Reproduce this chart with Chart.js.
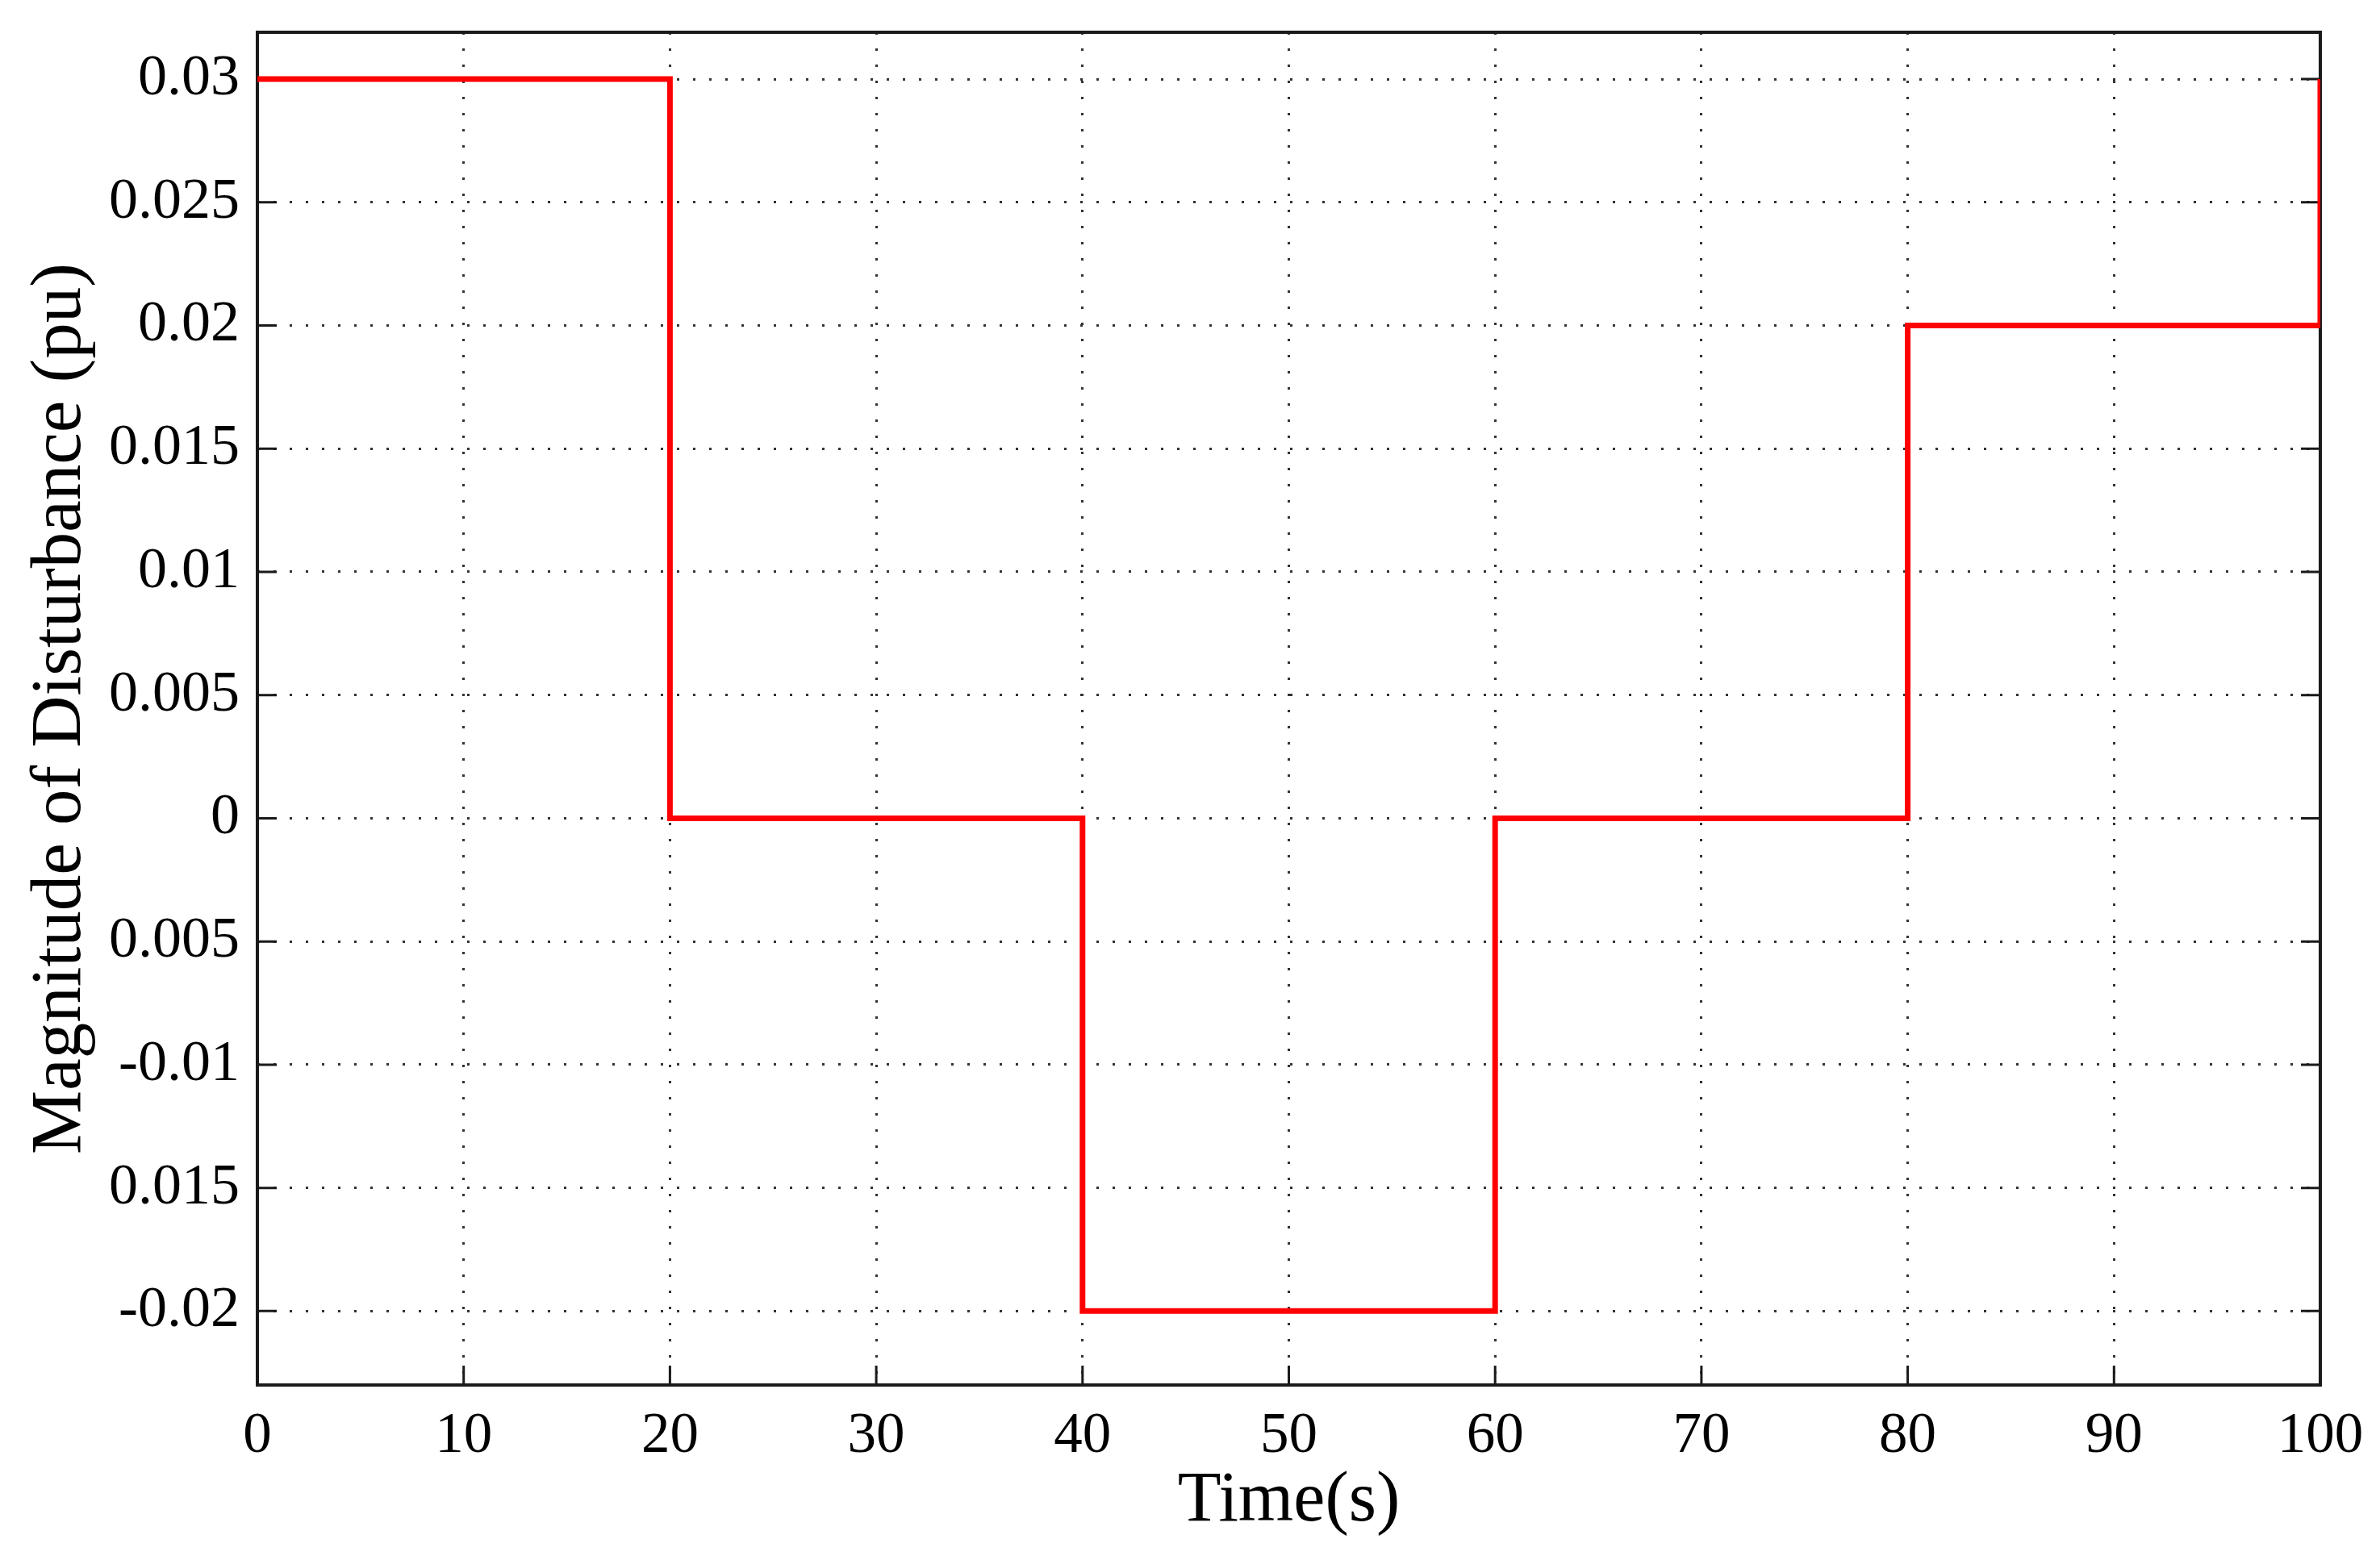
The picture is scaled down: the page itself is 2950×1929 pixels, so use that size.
<!DOCTYPE html>
<html>
<head>
<meta charset="utf-8">
<script src="https://cdn.jsdelivr.net/npm/chart.js@4/dist/chart.umd.min.js"></script>
<style>
  html, body { margin: 0; padding: 0; background: #fff; }
  #chart { display: block; }
</style>
</head>
<body>
<canvas id="chart" width="2950" height="1929"></canvas>
<script>
// step disturbance, each value held until the next time point
const time = [0, 20, 40, 60, 80, 100];
const magnitude = [0.03, 0, -0.02, 0, 0.02, 0.03];

const xTicks = [0, 10, 20, 30, 40, 50, 60, 70, 80, 90, 100];
const yTicks = [0.03, 0.025, 0.02, 0.015, 0.01, 0.005, 0, -0.005, -0.01, -0.015, -0.02];
// labels as printed on the original figure
const yTickLabels = ['0.03', '0.025', '0.02', '0.015', '0.01', '0.005', '0', '0.005', '-0.01', '0.015', '-0.02'];

const FONT = "'Liberation Serif', 'Times New Roman', serif";
const INK = '#000';

// box around the axes plus inward tick marks (left, right, bottom)
const frame = {
  id: 'frame',
  beforeDatasetsDraw(chart) {
    const { ctx, chartArea: a, scales } = chart;
    const len = 24;
    ctx.save();
    ctx.strokeStyle = '#1a1a1a';
    ctx.lineWidth = 3;
    ctx.beginPath();
    scales.y.ticks.forEach(t => {
      const py = scales.y.getPixelForValue(t.value);
      ctx.moveTo(a.left, py); ctx.lineTo(a.left + len, py);
      ctx.moveTo(a.right, py); ctx.lineTo(a.right - len, py);
    });
    scales.x.ticks.forEach(t => {
      const px = scales.x.getPixelForValue(t.value);
      ctx.moveTo(px, a.bottom); ctx.lineTo(px, a.bottom - len);
    });
    ctx.stroke();
    ctx.lineWidth = 4;
    ctx.strokeRect(a.left, a.top, a.right - a.left, a.bottom - a.top);
    ctx.restore();
  }
};

new Chart(document.getElementById('chart').getContext('2d'), {
  type: 'line',
  data: {
    datasets: [{
      data: time.map((t, i) => ({ x: t, y: magnitude[i] })),
      stepped: 'before',
      borderColor: '#ff0000',
      borderWidth: 7,
      pointRadius: 0,
      fill: false
    }]
  },
  options: {
    responsive: false,
    animation: false,
    layout: { padding: { top: 40, right: 74, left: 0, bottom: 0 } },
    plugins: { legend: { display: false }, tooltip: { enabled: false } },
    scales: {
      x: {
        type: 'linear',
        min: 0,
        max: 100,
        afterBuildTicks: s => { s.ticks = xTicks.map(v => ({ value: v })); },
        afterFit: s => { s.height = 212; s.paddingLeft = 0; s.paddingRight = 0; },
        ticks: { color: INK, font: { family: FONT, size: 71 }, padding: 22, maxRotation: 0 },
        grid: { color: '#333', lineWidth: 3, drawTicks: false },
        border: { display: false, dash: [3, 17] },
        title: {
          display: true,
          text: 'Time(s)',
          color: INK,
          font: { family: FONT, size: 88 },
          padding: { top: 0, bottom: 14 }
        }
      },
      y: {
        type: 'linear',
        min: -0.023,
        max: 0.0319,
        afterBuildTicks: s => { s.ticks = yTicks.map(v => ({ value: v })); },
        afterFit: s => { s.width = 319; s.paddingTop = 0; s.paddingBottom = 0; },
        ticks: {
          color: INK,
          font: { family: FONT, size: 72 },
          padding: 22,
          callback: (v, i) => yTickLabels[i]
        },
        grid: { color: '#333', lineWidth: 3, drawTicks: false },
        border: { display: false, dash: [3, 17] },
        title: {
          display: true,
          text: 'Magnitude of Disturbance (pu)',
          color: INK,
          font: { family: FONT, size: 89 },
          padding: { top: 22, bottom: 0 }
        }
      }
    }
  },
  plugins: [frame]
});
</script>
</body>
</html>
